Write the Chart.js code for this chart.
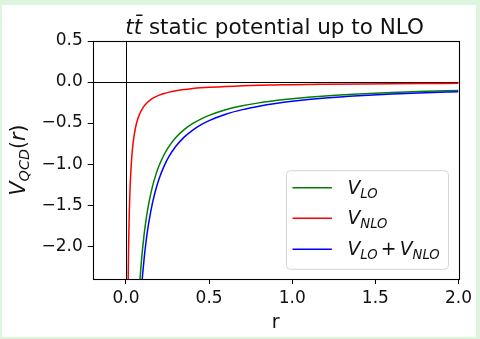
<!DOCTYPE html>
<html><head><meta charset="utf-8">
<script src="https://cdn.jsdelivr.net/npm/chart.js"></script>
<style>
html,body{margin:0;padding:0;background:#ddf5de;width:480px;height:339px;overflow:hidden;}
#card{position:absolute;left:2px;top:5px;width:474px;height:332px;background:#fff;}
canvas{display:block;}
</style></head><body>
<div id="card"><canvas id="c" width="474" height="332"></canvas></div>
<script>
// r samples and potentials
const rNLO = [0.008,0.009,0.01,0.011,0.012,0.013,0.014,0.015,0.017,0.02,0.022,0.025,0.027,0.03,0.035,0.04,0.045,0.05,0.06,0.07,0.08,0.09,0.1,0.11,0.12,0.13,0.14,0.16,0.18,0.2,0.23,0.26,0.3,0.35,0.4,0.45,0.5,0.6,0.7,0.8,0.9,1.0,1.2,1.4,1.6,1.8,2.0];
const vNLO = [-4.0,-3.556,-3.2,-2.909,-2.667,-2.462,-2.286,-2.133,-1.882,-1.6,-1.455,-1.28,-1.185,-1.067,-0.914,-0.8,-0.711,-0.64,-0.533,-0.457,-0.4,-0.356,-0.32,-0.291,-0.267,-0.246,-0.229,-0.2,-0.178,-0.16,-0.139,-0.123,-0.107,-0.091,-0.08,-0.071,-0.064,-0.053,-0.046,-0.04,-0.036,-0.032,-0.027,-0.023,-0.02,-0.018,-0.016];
const rLO = [0.05,0.06,0.07,0.08,0.085,0.09,0.095,0.1,0.11,0.12,0.13,0.14,0.16,0.18,0.2,0.23,0.26,0.3,0.35,0.4,0.45,0.5,0.6,0.7,0.8,0.9,1.0,1.2,1.4,1.6,1.8,2.0];
const vLO = [-4.06,-3.383,-2.9,-2.538,-2.388,-2.256,-2.137,-2.03,-1.845,-1.692,-1.562,-1.45,-1.269,-1.128,-1.015,-0.883,-0.781,-0.677,-0.58,-0.508,-0.451,-0.406,-0.338,-0.29,-0.254,-0.226,-0.203,-0.169,-0.145,-0.127,-0.113,-0.102];
const vSum = [-4.7,-3.917,-3.357,-2.938,-2.765,-2.611,-2.474,-2.35,-2.136,-1.958,-1.808,-1.679,-1.469,-1.306,-1.175,-1.022,-0.904,-0.783,-0.671,-0.588,-0.522,-0.47,-0.392,-0.336,-0.294,-0.261,-0.235,-0.196,-0.168,-0.147,-0.131,-0.118];
const xTicks = [0.0,0.5,1.0,1.5,2.0];
const yTicks = [0.5,0.0,-0.5,-1.0,-1.5,-2.0];
const xRange = [-0.2,2.0];
const yRange = [-2.4,0.5];

const FONT = '"DejaVu Sans", sans-serif';
const TXT = '#111';

function pts(xs, ys){ return xs.map((x,i)=>({x:x,y:ys[i]})); }
function fmt(v){ return (v<0?'\u2212':'') + Math.abs(v).toFixed(1); }

function mathWidth(ctx, parts, size){
  let w=0;
  for(const p of parts){
    const s = p.sub? size*0.7 : size;
    ctx.font = (p.it?'italic ':'') + s + 'px ' + FONT;
    w += ctx.measureText(p.t).width + ((p.gap||0)+(p.pre||0))*size;
  }
  return w;
}
function drawMath(ctx, parts, x, y, size){
  let cx=x;
  for(const p of parts){
    const s = p.sub? size*0.7 : size;
    ctx.font = (p.it?'italic ':'') + s + 'px ' + FONT;
    cx += (p.pre||0)*size;
    ctx.fillText(p.t, cx, y + (p.sub? size*0.22:0));
    cx += ctx.measureText(p.t).width + (p.gap||0)*size;
  }
  return cx-x;
}

const deco = {
  id:'deco',
  beforeDatasetsDraw(chart){
    const {ctx, chartArea:a, scales:{x,y}} = chart;
    ctx.save();
    ctx.strokeStyle='#000'; ctx.lineWidth=1;
    const x0 = Math.round(x.getPixelForValue(0))+0.5;
    const y0 = Math.round(y.getPixelForValue(0))+0.5;
    ctx.beginPath();
    ctx.moveTo(a.left,y0); ctx.lineTo(a.right,y0);
    ctx.moveTo(x0,a.top); ctx.lineTo(x0,a.bottom);
    ctx.stroke();
    ctx.restore();
  },
  afterDraw(chart){
    const {ctx, chartArea:a} = chart;
    ctx.save();
    ctx.strokeStyle='#000'; ctx.lineWidth=1.1;
    ctx.strokeRect(Math.round(a.left)+0.5, Math.round(a.top)+0.5, Math.round(a.right-a.left), Math.round(a.bottom-a.top));
    ctx.fillStyle=TXT;
    ctx.textBaseline='alphabetic';
    // title
    const tsize=21.5;
    const tparts=[{t:'t',it:true},{t:'t\u0304',it:true},{t:' static potential up to NLO'}];
    const tw = mathWidth(ctx,tparts,tsize);
    drawMath(ctx,tparts,(a.left+a.right)/2 - tw/2 - 1, a.top-7, tsize);
    // x label
    ctx.font = '19px '+FONT; ctx.textAlign='center';
    ctx.fillText('r',(a.left+a.right)/2, a.bottom+49);
    ctx.textAlign='left';
    // y label
    const ysize=20.5;
    const yparts=[{t:'V',it:true},{t:'QCD',it:true,sub:true},{t:'(',it:false},{t:'r',it:true},{t:')',it:false}];
    const yw = mathWidth(ctx,yparts,ysize);
    ctx.save();
    ctx.translate(a.left-68, (a.top+a.bottom)/2);
    ctx.rotate(-Math.PI/2);
    drawMath(ctx,yparts,-yw/2,0,ysize);
    ctx.restore();
    // legend
    const bx=a.right-172, by=a.bottom-108.3, bw=162, bh=98.6, r=4;
    ctx.beginPath();
    ctx.moveTo(bx+r,by); ctx.lineTo(bx+bw-r,by); ctx.arcTo(bx+bw,by,bx+bw,by+r,r);
    ctx.lineTo(bx+bw,by+bh-r); ctx.arcTo(bx+bw,by+bh,bx+bw-r,by+bh,r);
    ctx.lineTo(bx+r,by+bh); ctx.arcTo(bx,by+bh,bx,by+bh-r,r);
    ctx.lineTo(bx,by+r); ctx.arcTo(bx,by,bx+r,by,r); ctx.closePath();
    ctx.fillStyle='rgba(255,255,255,0.8)'; ctx.fill();
    ctx.strokeStyle='#d6d6d6'; ctx.lineWidth=1; ctx.stroke();
    const ds = chart.data.datasets;
    const labels=[
      [{t:'V',it:true},{t:'LO',it:true,sub:true,gap:0.05}],
      [{t:'V',it:true},{t:'NLO',it:true,sub:true}],
      [{t:'V',it:true},{t:'LO',it:true,sub:true,gap:0.17},{t:'+'},{t:'V',it:true,pre:0.17},{t:'NLO',it:true,sub:true}]
    ];
    const rows=[by+17, by+47.6, by+78.6];
    const lsize=18.8;
    for(let i=0;i<3;i++){
      ctx.strokeStyle=ds[i].borderColor; ctx.lineWidth=1.5;
      ctx.beginPath(); ctx.moveTo(bx+6,rows[i]); ctx.lineTo(bx+45.4,rows[i]); ctx.stroke();
      ctx.fillStyle=TXT;
      drawMath(ctx,labels[i],bx+61,rows[i]+6,lsize);
    }
    ctx.restore();
  }
};

new Chart(document.getElementById('c'),{
  type:'line',
  data:{datasets:[
    {label:'V_LO',data:pts(rLO,vLO),borderColor:'#008000',order:2},
    {label:'V_NLO',data:pts(rNLO,vNLO),borderColor:'#ff0000',order:1},
    {label:'V_LO + V_NLO',data:pts(rLO,vSum),borderColor:'#0000ff',order:0}
  ]},
  options:{
    responsive:false, animation:false,
    layout:{padding:{left:0,top:36,right:16.7,bottom:0}},
    elements:{line:{borderWidth:1.5,tension:0,cubicInterpolationMode:'monotone',fill:false},point:{radius:0}},
    datasets:{line:{clip:0}},
    plugins:{legend:{display:false},tooltip:{enabled:false},title:{display:false}},
    scales:{
      x:{type:'linear',min:xRange[0],max:xRange[1],
        afterBuildTicks(s){ s.ticks = xTicks.map(v=>({value:v})); },
        afterFit(s){ s.height=58; },
        border:{display:false},
        grid:{drawOnChartArea:false,drawTicks:true,tickLength:5,color:'#000',lineWidth:1},
        ticks:{callback:v=>fmt(v),font:{family:'DejaVu Sans',size:17},color:TXT,padding:4,maxRotation:0,autoSkip:false}
      },
      y:{type:'linear',min:yRange[0],max:yRange[1],
        afterBuildTicks(s){ s.ticks = yTicks.map(v=>({value:v})); },
        afterFit(s){ s.width=90.7; },
        border:{display:false},
        grid:{drawOnChartArea:false,drawTicks:true,tickLength:5,color:'#000',lineWidth:1},
        ticks:{callback:v=>fmt(v),font:{family:'DejaVu Sans',size:17},color:TXT,padding:5,autoSkip:false}
      }
    }
  },
  plugins:[deco]
});
</script>
</body></html>
